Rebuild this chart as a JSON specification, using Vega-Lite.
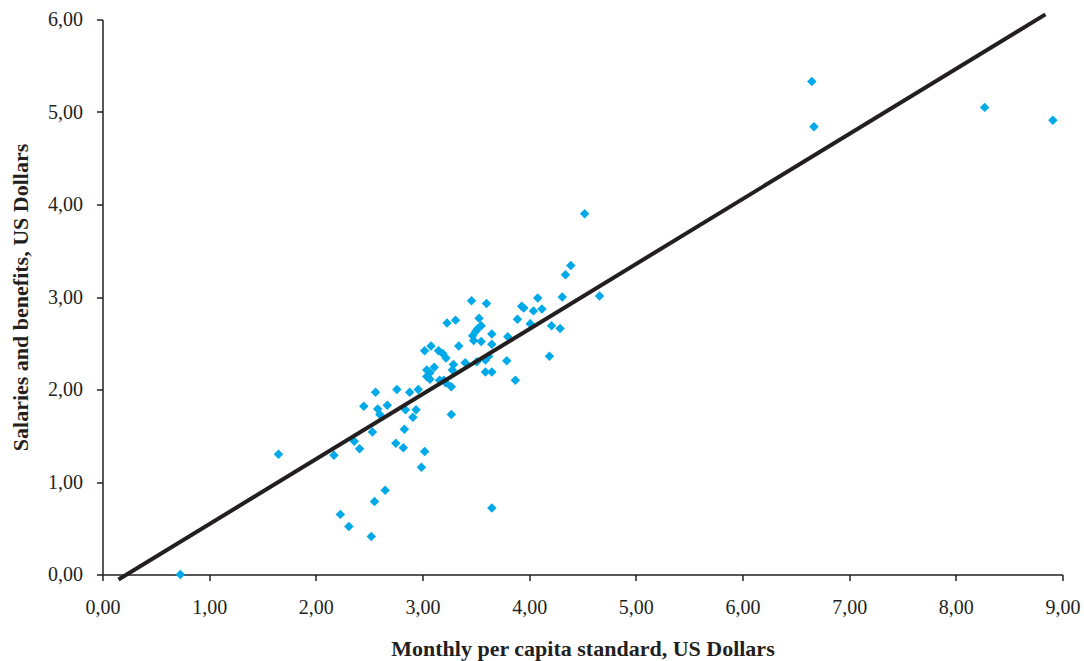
{
  "$schema": "https://vega.github.io/schema/vega-lite/v6.json",
  "width": 960,
  "height": 555,
  "autosize": {"type": "none"},
  "padding": {"left": 102.5, "top": 19.5, "right": 21.5, "bottom": 86.5},
  "background": "white",
  "config": {
    "view": {"stroke": null},
    "font": "Liberation Serif",
    "axis": {
      "grid": false,
      "labelFlush": false,
      "domainColor": "#231f20",
      "tickColor": "#231f20",
      "domainWidth": 1.5,
      "tickWidth": 1.5,
      "tickSize": 6,
      "labelFont": "Liberation Serif",
      "labelFontSize": 20,
      "labelColor": "#231f20",
      "titleFont": "Liberation Serif",
      "titleFontSize": 22,
      "titleFontWeight": "bold",
      "titleColor": "#231f20"
    }
  },
  "datasets": {
    "points": [
      {"x": 0.73, "y": 0.00}, {"x": 1.65, "y": 1.30}, {"x": 2.17, "y": 1.29}, {"x": 2.23, "y": 0.65},
      {"x": 2.31, "y": 0.52}, {"x": 2.36, "y": 1.44}, {"x": 2.41, "y": 1.36}, {"x": 2.45, "y": 1.82},
      {"x": 2.52, "y": 0.41}, {"x": 2.53, "y": 1.54}, {"x": 2.55, "y": 0.79}, {"x": 2.56, "y": 1.97},
      {"x": 2.58, "y": 1.79}, {"x": 2.60, "y": 1.73}, {"x": 2.65, "y": 0.91}, {"x": 2.67, "y": 1.83},
      {"x": 2.75, "y": 1.42}, {"x": 2.76, "y": 2.00}, {"x": 2.82, "y": 1.37}, {"x": 2.83, "y": 1.57},
      {"x": 2.84, "y": 1.78}, {"x": 2.88, "y": 1.97}, {"x": 2.91, "y": 1.70}, {"x": 2.94, "y": 1.78},
      {"x": 2.96, "y": 2.00}, {"x": 2.99, "y": 1.16}, {"x": 3.02, "y": 1.33}, {"x": 3.02, "y": 2.42},
      {"x": 3.04, "y": 2.21}, {"x": 3.04, "y": 2.14}, {"x": 3.07, "y": 2.18}, {"x": 3.07, "y": 2.11},
      {"x": 3.08, "y": 2.47}, {"x": 3.11, "y": 2.24}, {"x": 3.15, "y": 2.42}, {"x": 3.16, "y": 2.10},
      {"x": 3.19, "y": 2.39}, {"x": 3.20, "y": 2.10}, {"x": 3.22, "y": 2.34}, {"x": 3.22, "y": 2.07},
      {"x": 3.23, "y": 2.72}, {"x": 3.27, "y": 2.03}, {"x": 3.27, "y": 1.73}, {"x": 3.28, "y": 2.21},
      {"x": 3.29, "y": 2.27}, {"x": 3.31, "y": 2.75}, {"x": 3.34, "y": 2.47}, {"x": 3.40, "y": 2.29},
      {"x": 3.46, "y": 2.96}, {"x": 3.47, "y": 2.58}, {"x": 3.48, "y": 2.53}, {"x": 3.50, "y": 2.63},
      {"x": 3.52, "y": 2.66}, {"x": 3.53, "y": 2.77}, {"x": 3.55, "y": 2.69}, {"x": 3.55, "y": 2.52},
      {"x": 3.51, "y": 2.30}, {"x": 3.59, "y": 2.32}, {"x": 3.59, "y": 2.19}, {"x": 3.60, "y": 2.93},
      {"x": 3.62, "y": 2.36}, {"x": 3.65, "y": 2.60}, {"x": 3.65, "y": 2.49}, {"x": 3.65, "y": 2.19},
      {"x": 3.65, "y": 0.72}, {"x": 3.79, "y": 2.31}, {"x": 3.80, "y": 2.57}, {"x": 3.87, "y": 2.10},
      {"x": 3.89, "y": 2.76}, {"x": 3.93, "y": 2.90}, {"x": 3.95, "y": 2.88}, {"x": 4.01, "y": 2.71},
      {"x": 4.04, "y": 2.85}, {"x": 4.08, "y": 2.99}, {"x": 4.12, "y": 2.87}, {"x": 4.19, "y": 2.36},
      {"x": 4.21, "y": 2.69}, {"x": 4.29, "y": 2.66}, {"x": 4.31, "y": 3.00}, {"x": 4.34, "y": 3.24},
      {"x": 4.39, "y": 3.34}, {"x": 4.52, "y": 3.90}, {"x": 4.66, "y": 3.01}, {"x": 6.65, "y": 5.33},
      {"x": 6.67, "y": 4.84}, {"x": 8.27, "y": 5.05}, {"x": 8.91, "y": 4.91}
    ],
    "fit": [
      {"x": 0.15, "y": -0.054},
      {"x": 8.84, "y": 6.055}
    ]
  },
  "layer": [
    {
      "data": {"name": "points"},
      "mark": {"type": "point", "shape": "diamond", "filled": true, "size": 90, "color": "#00a9e8", "opacity": 1},
      "encoding": {
        "x": {
          "field": "x", "type": "quantitative",
          "scale": {"domain": [0, 9], "nice": false, "zero": false},
          "axis": {
            "values": [0, 1, 2, 3, 4, 5, 6, 7, 8, 9],
            "labelExpr": "replace(format(datum.value, '.2f'), '.', ',')",
            "labelPadding": 17,
            "title": "Monthly per capita standard, US Dollars",
            "titlePadding": 21
          }
        },
        "y": {
          "field": "y", "type": "quantitative",
          "scale": {"domain": [0, 6], "nice": false, "zero": false},
          "axis": {
            "values": [0, 1, 2, 3, 4, 5, 6],
            "labelExpr": "replace(format(datum.value, '.2f'), '.', ',')",
            "labelPadding": 14,
            "title": "Salaries and benefits, US Dollars",
            "titleX": -82,
            "titleBaseline": "middle"
          }
        }
      }
    },
    {
      "data": {"name": "fit"},
      "mark": {"type": "line", "color": "#231f20", "strokeWidth": 4, "clip": false},
      "encoding": {
        "x": {"field": "x", "type": "quantitative"},
        "y": {"field": "y", "type": "quantitative"}
      }
    }
  ]
}
